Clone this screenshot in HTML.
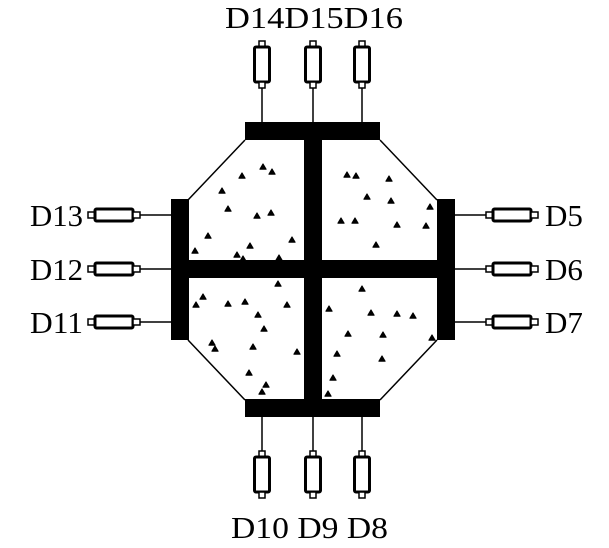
<!DOCTYPE html>
<html><head><style>html,body{margin:0;padding:0;background:#fff}svg{display:block}
.lb{font-family:"Liberation Serif","Times New Roman",Times,serif;font-size:31px;fill:#000}
</style></head>
<body>
<svg width="609" height="548" viewBox="0 0 609 548" xmlns="http://www.w3.org/2000/svg">
<defs>
<g id="sv">
<rect x="-3" y="0" width="6" height="6" fill="#fff" stroke="#000" stroke-width="1.5"/>
<rect x="-7.5" y="6" width="15" height="35" rx="1.5" fill="#fff" stroke="#000" stroke-width="3"/>
<rect x="-3" y="41" width="6" height="6" fill="#fff" stroke="#000" stroke-width="1.5"/>
</g>
<g id="sh">
<rect x="0" y="-3" width="7" height="6" fill="#fff" stroke="#000" stroke-width="1.5"/>
<rect x="7" y="-6" width="38" height="12" rx="1.5" fill="#fff" stroke="#000" stroke-width="3"/>
<rect x="45" y="-3" width="7" height="6" fill="#fff" stroke="#000" stroke-width="1.5"/>
</g>
<path id="t" d="M-3,2.2 L3,2.2 L0,-3 Z" fill="#000" stroke="#000" stroke-width="1.2" stroke-linejoin="round"/>
</defs>
<g stroke="#000" stroke-width="1.5" fill="none">
<line x1="245" y1="140" x2="188" y2="200"/>
<line x1="380" y1="140" x2="437" y2="200"/>
<line x1="188" y1="340" x2="245" y2="400"/>
<line x1="437" y1="340" x2="380" y2="400"/>
<line x1="262" y1="88" x2="262" y2="122"/><line x1="313" y1="88" x2="313" y2="122"/><line x1="362" y1="88" x2="362" y2="122"/>
<line x1="262" y1="417" x2="262" y2="451"/><line x1="313" y1="417" x2="313" y2="451"/><line x1="362" y1="417" x2="362" y2="451"/>
<line x1="140" y1="215" x2="172" y2="215"/><line x1="140" y1="269" x2="172" y2="269"/><line x1="140" y1="322" x2="172" y2="322"/>
<line x1="454" y1="215" x2="486" y2="215"/><line x1="454" y1="269" x2="486" y2="269"/><line x1="454" y1="322" x2="486" y2="322"/>
</g>
<g fill="#000">
<rect x="245" y="122" width="135" height="18"/>
<rect x="245" y="399" width="135" height="18"/>
<rect x="304" y="138" width="18" height="263"/>
<rect x="171" y="199" width="18" height="141"/>
<rect x="437" y="199" width="18" height="141"/>
<rect x="187" y="260" width="252" height="18"/>
</g>
<use href="#sv" x="262" y="41"/><use href="#sv" x="313" y="41"/><use href="#sv" x="362" y="41"/>
<use href="#sv" x="262" y="451"/><use href="#sv" x="313" y="451"/><use href="#sv" x="362" y="451"/>
<use href="#sh" x="88" y="215"/><use href="#sh" x="88" y="269"/><use href="#sh" x="88" y="322"/>
<use href="#sh" x="486" y="215"/><use href="#sh" x="486" y="269"/><use href="#sh" x="486" y="322"/>
<g>
<use href="#t" x="263" y="167"/><use href="#t" x="272" y="172"/><use href="#t" x="242" y="176"/><use href="#t" x="222" y="191"/><use href="#t" x="228" y="209"/><use href="#t" x="257" y="216"/><use href="#t" x="271" y="213"/><use href="#t" x="208" y="236"/><use href="#t" x="250" y="246"/><use href="#t" x="292" y="240"/><use href="#t" x="195" y="251"/><use href="#t" x="237" y="255"/><use href="#t" x="243" y="259"/><use href="#t" x="279" y="258"/>
<use href="#t" x="347" y="175"/><use href="#t" x="356" y="176"/><use href="#t" x="389" y="179"/><use href="#t" x="367" y="197"/><use href="#t" x="391" y="201"/><use href="#t" x="430" y="207"/><use href="#t" x="341" y="221"/><use href="#t" x="355" y="221"/><use href="#t" x="397" y="225"/><use href="#t" x="426" y="226"/><use href="#t" x="376" y="245"/>
<use href="#t" x="278" y="284"/><use href="#t" x="203" y="297"/><use href="#t" x="196" y="305"/><use href="#t" x="228" y="304"/><use href="#t" x="245" y="302"/><use href="#t" x="287" y="305"/><use href="#t" x="258" y="315"/><use href="#t" x="264" y="329"/><use href="#t" x="212" y="343"/><use href="#t" x="215" y="349"/><use href="#t" x="253" y="347"/><use href="#t" x="297" y="352"/><use href="#t" x="249" y="373"/><use href="#t" x="266" y="385"/><use href="#t" x="262" y="392"/>
<use href="#t" x="362" y="289"/><use href="#t" x="329" y="309"/><use href="#t" x="371" y="313"/><use href="#t" x="397" y="314"/><use href="#t" x="413" y="316"/><use href="#t" x="348" y="334"/><use href="#t" x="383" y="335"/><use href="#t" x="432" y="338"/><use href="#t" x="337" y="354"/><use href="#t" x="382" y="359"/><use href="#t" x="333" y="378"/><use href="#t" x="328" y="394"/>
</g>
<g class="lb">
<text x="225" y="28" textLength="178" lengthAdjust="spacingAndGlyphs">D14D15D16</text>
<text x="231" y="538" textLength="157" lengthAdjust="spacingAndGlyphs">D10 D9 D8</text>
<text x="30" y="226" textLength="53" lengthAdjust="spacingAndGlyphs">D13</text>
<text x="30" y="280" textLength="53" lengthAdjust="spacingAndGlyphs">D12</text>
<text x="30" y="333" textLength="53" lengthAdjust="spacingAndGlyphs">D11</text>
<text x="545" y="226">D5</text>
<text x="545" y="280">D6</text>
<text x="545" y="333">D7</text>
</g>
</svg>
</body></html>
